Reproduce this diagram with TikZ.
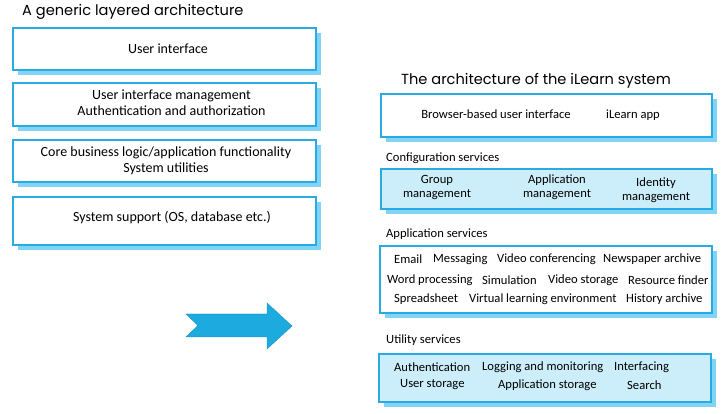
\documentclass[tikz,border=0pt]{standalone}
\usepackage{fontspec}
\setmainfont{Carlito}
\newfontfamily\titlefont{Poppins}
\usetikzlibrary{shadows}
\definecolor{bordc}{HTML}{29ABE2}
\definecolor{shadc}{HTML}{80D4F5}
\definecolor{fillc}{HTML}{CBEEFA}
\definecolor{arrc}{HTML}{1DAADF}
\definecolor{arrb}{HTML}{1590C0}
\begin{document}
\begin{tikzpicture}[x=1pt,y=-1pt,
  layerbox/.style={draw=bordc, line width=1.3pt, fill=white, inner sep=0pt,
    general shadow={draw=none, fill=shadc, shadow xshift=5pt, shadow yshift=-5pt}},
  filledbox/.style={layerbox, fill=fillc},
  ltxt/.style={inner sep=0pt, align=center, font=\fontsize{14}{16}\selectfont},
  ctxt/.style={inner sep=0pt, align=center, font=\fontsize{12.6}{14}\selectfont},
  itm/.style={inner sep=0pt, anchor=west, font=\fontsize{12.6}{14}\selectfont},
  sectlabel/.style={inner sep=0pt, anchor=west, font=\fontsize{12.6}{14}\selectfont},
  ttl/.style={inner sep=0pt, anchor=west, font=\titlefont\fontsize{14.6}{16}\selectfont}
]
\useasboundingbox (0,0) rectangle (724,414);
\fill[white] (0,0) rectangle (724,414);

% left: generic layered architecture
\node[ttl] (t1) at (22,12) {A generic layered architecture};
\node[layerbox, minimum width=303pt, minimum height=42pt] (b1) at (164.5,49) {};
\node[layerbox, minimum width=303pt, minimum height=43pt] (b2) at (164.5,104.5) {};
\node[layerbox, minimum width=303pt, minimum height=42pt] (b3) at (164.5,161) {};
\node[layerbox, minimum width=303pt, minimum height=48pt] (b4) at (164.5,221) {};
\node[ltxt] (b1t) at (168,48.5) {User interface};
\node[ltxt] (b2t) at (171.5,103) {User interface management\\Authentication and authorization};
\node[ltxt] (b3t) at (166,160.5) {Core business logic/application functionality\\System utilities};
\node[ltxt] (b4t) at (172,218) {System support (OS, database etc.)};

% arrow
\draw[fill=arrc, draw=arrb, line width=0.4pt] (186,314) -- (267,314) -- (267,303) -- (292,326)
  -- (267,349) -- (267,337) -- (186,337) -- (198,325.5) -- cycle;

% right: iLearn architecture
\node[ttl] (t2) at (401,80.5) {The architecture of the iLearn system};
\node[layerbox, minimum width=331pt, minimum height=43pt] (r1) at (546.5,115.5) {};
\node[ctxt] (r1a) at (496,114) {Browser-based user interface};
\node[ctxt] (r1b) at (633,115) {iLearn app};

\node[sectlabel] (l1) at (386,158) {Configuration services};
\node[filledbox, minimum width=331pt, minimum height=40pt] (r2) at (546.5,189) {};
\node[ctxt] (r2a) at (437,187) {Group\\management};
\node[ctxt] (r2b) at (557,187) {Application\\management};
\node[ctxt] (r2c) at (656,190) {Identity\\management};

\node[sectlabel] (l2) at (386,234) {Application services};
\node[layerbox, minimum width=332pt, minimum height=67pt] (r3) at (546,279.5) {};
\node[itm] (a1) at (394,259) {Email};
\node[itm] (a2) at (433,259) {Messaging};
\node[itm] (a3) at (497,259) {Video conferencing};
\node[itm] (a4) at (603,259) {Newspaper archive};
\node[itm] (a5) at (387,280) {Word processing};
\node[itm] (a6) at (482,280) {Simulation};
\node[itm] (a7) at (548,280) {Video storage};
\node[itm] (a8) at (628,280) {Resource finder};
\node[itm] (a9) at (394,299) {Spreadsheet};
\node[itm] (a10) at (469,299) {Virtual learning environment};
\node[itm] (a11) at (626,299) {History archive};

\node[sectlabel] (l3) at (386,340) {Utility services};
\node[filledbox, minimum width=332pt, minimum height=48pt] (r4) at (545,378) {};
\node[itm] (u1) at (394,367) {Authentication};
\node[itm] (u2) at (482,367) {Logging and monitoring};
\node[itm] (u3) at (614,367) {Interfacing};
\node[itm] (u4) at (400,385) {User storage};
\node[itm] (u5) at (498,385) {Application storage};
\node[itm] (u6) at (627,385) {Search};
\end{tikzpicture}
\end{document}
